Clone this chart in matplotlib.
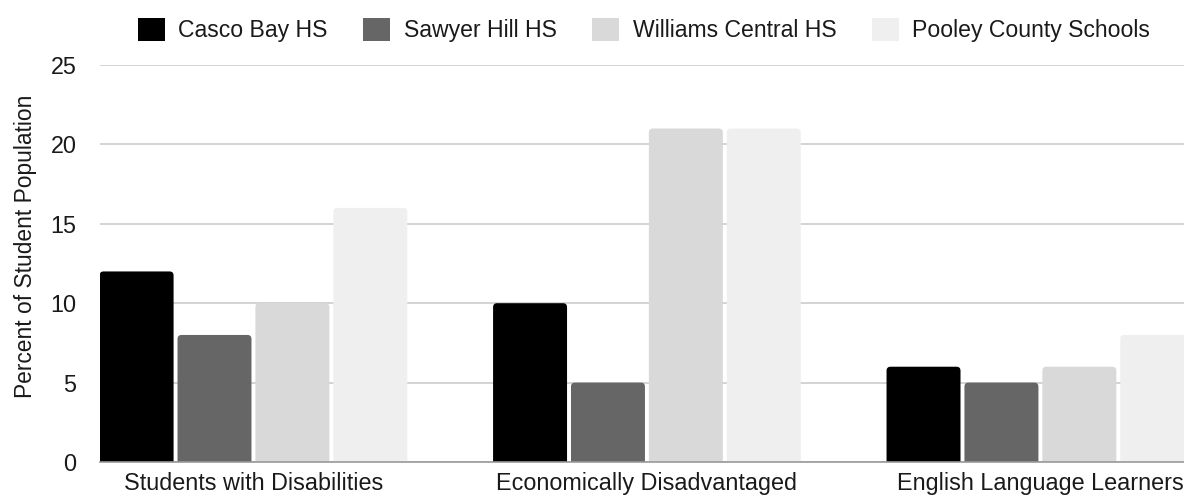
import numpy as np
import matplotlib.pyplot as plt
from matplotlib.patches import FancyBboxPatch, Patch

plt.rcParams['font.family'] = ['Liberation Sans', 'DejaVu Sans']

categories = ["Students with Disabilities", "Economically Disadvantaged", "English Language Learners"]
schools = ["Casco Bay HS", "Sawyer Hill HS", "Williams Central HS", "Pooley County Schools"]
casco_bay = [12, 10, 6]
sawyer_hill = [8, 5, 5]
williams_central = [10, 21, 6]
pooley_county = [16, 21, 8]
colors = ["#000000", "#666666", "#d9d9d9", "#efefef"]

series = [casco_bay, sawyer_hill, williams_central, pooley_county]

fig = plt.figure(figsize=(11.84, 4.97), dpi=100)
ax = fig.add_axes([100 / 1184, 35 / 497, 1 - 100 / 1184, 397 / 497])

x = np.arange(len(categories))
step = 0.198
width = 0.188
ax.set_xlim(-0.39, 2.365)
ax.set_ylim(0, 25)

# px per data unit, used for rounded bar tops
bbox = ax.get_window_extent()
px_x = bbox.width / (2.365 + 0.39)
px_y = bbox.height / 25
radius = 4 / px_x
aspect = px_x / px_y

for i, (vals, col) in enumerate(zip(series, colors)):
    bars = ax.bar(x + (i - 1.5) * step, vals, width, color=col)
    for rect in bars:
        bx, by = rect.get_x(), rect.get_y()
        bw, bh = rect.get_width(), rect.get_height()
        rect.set_visible(False)
        ax.add_patch(FancyBboxPatch((bx, by - 1), bw, bh + 1,
                                    boxstyle=f"round,pad=0,rounding_size={radius}",
                                    mutation_aspect=aspect, facecolor=col,
                                    edgecolor="none", zorder=2))

ax.set_yticks([0, 5, 10, 15, 20, 25])
ax.yaxis.grid(True, color="#cccccc", linewidth=1.2)
ax.set_axisbelow(True)
for s in ["top", "right", "left"]:
    ax.spines[s].set_visible(False)
ax.spines["bottom"].set_color("#999999")
ax.spines["bottom"].set_linewidth(1.2)
ax.spines["bottom"].set_zorder(3)
ax.tick_params(axis="both", length=0, labelsize=16.8, labelcolor="#1a1a1a")
ax.tick_params(axis="y", pad=17)
ax.tick_params(axis="x", pad=7)
ax.set_xticks(x)
ax.set_xticklabels(categories)
ax.set_ylabel("Percent of Student Population", fontsize=16.4, color="#1a1a1a")
ax.yaxis.set_label_coords(-0.058, 0.544)

handles = [Patch(facecolor=c, edgecolor="none") for c in colors]
fig.legend(handles, schools, loc="center", bbox_to_anchor=(644 / 1184, 1 - 30 / 497),
           ncol=4, frameon=False, fontsize=16.6, handlelength=1.18, handleheight=1.18,
           handletextpad=0.57, columnspacing=1.55, labelcolor="#1a1a1a")

fig.savefig("out.png", dpi=100)
